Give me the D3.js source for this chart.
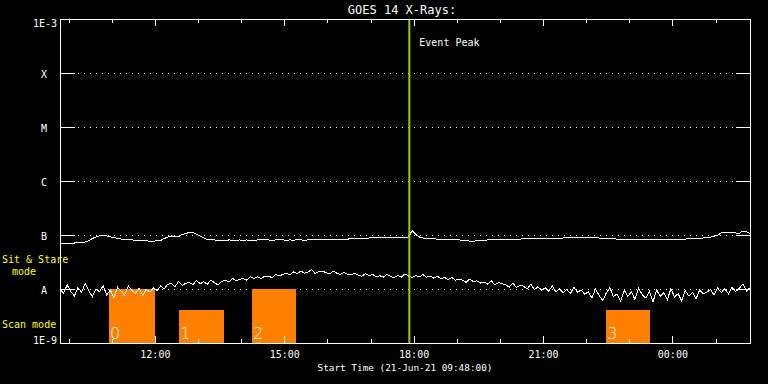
<!DOCTYPE html>
<html lang="en">
<head>
  <meta charset="UTF-8">
  <title>GOES 14 X-Rays</title>
  <style>
    body { margin: 0; background: #000; }
    svg { display: block; background: #000; }
    text { font-family: "DejaVu Sans Mono", monospace; fill: #fff; }
    .axis path, .axis line { stroke: #fff; shape-rendering: crispEdges; }
    .axis text { font-size: 10px; }
    .grid line { stroke: #fff; stroke-dasharray: 1,5; shape-rendering: crispEdges; }
    .flux { fill: none; stroke: #fff; stroke-width: 1; shape-rendering: crispEdges; }
    .bar { fill: #ff8000; shape-rendering: crispEdges; }
    .mode { fill: #ffff00; font-size: 10px; }
  </style>
</head>
<body>
  <svg width="768" height="384"></svg>
  <script src="https://cdn.jsdelivr.net/npm/d3@7"></script>
  <script>
    // time axis: one sample every 5 minutes from start
    var startTime = new Date(2021, 5, 21, 9, 48),
      endTime = new Date(2021, 5, 22, 1, 48),
      sampleMinutes = 5;

    // flux values in units of 1e-9 W/m^2
    var longFlux = [
      70, 69, 68, 70, 71, 73, 72, 74, 79, 86, 92, 96, 98, 96, 92, 90, 86, 84, 83, 81,
      81, 80, 79, 79, 78, 77, 77, 78, 79, 86, 92, 96, 92, 94, 102, 107, 111, 111, 104, 96,
      88, 83, 81, 81, 79, 80, 79, 81, 80, 79, 81, 80, 81, 79, 80, 81, 81, 82, 81, 80,
      81, 82, 81, 80, 81, 80, 82, 81, 80, 81, 82, 81, 82, 83, 82, 83, 82, 83, 83, 84,
      84, 85, 85, 86, 87, 86, 88, 88, 89, 90, 89, 91, 90, 90, 88, 88, 88, 92, 121, 102,
      92, 88, 86, 86, 85, 84, 84, 83, 83, 82, 81, 81, 80, 79, 77, 77, 78, 79, 79, 81,
      82, 82, 83, 82, 83, 83, 83, 84, 84, 85, 85, 85, 86, 85, 87, 86, 87, 86, 88, 87,
      88, 88, 89, 88, 89, 90, 89, 89, 90, 88, 88, 87, 86, 86, 85, 84, 84, 83, 83, 82,
      82, 81, 82, 82, 81, 82, 83, 82, 82, 83, 82, 83, 83, 84, 84, 85, 85, 86, 87, 88,
      89, 91, 94, 100, 109, 112, 112, 111, 109, 107, 119, 116, 107
    ];
    var shortFlux = [
      9.8, 8.4, 11.9, 9.0, 7.4, 10.6, 8.7, 12.6, 9.3, 7.2, 10.1, 8.9, 11.5, 7.8, 9.6,
      6.9, 10.8, 9.1, 7.7, 11.4, 9.4, 8.3, 10.3, 7.6, 9.9, 8.8,
      10.4, 9.2, 11.3, 10.1, 12.2,
      12.6, 11.0, 13.8, 11.7, 12.8,
      13.1, 12.0, 14.4, 12.5, 13.6, 12.2, 14.7, 13.0, 11.9, 13.8,
      14.6, 13.4, 15.8, 14.0, 15.1,
      15.6, 14.6, 16.9, 15.7, 16.8, 15.5, 17.4,
      17.3, 16.2, 18.6, 17.4, 18.6,
      19.4, 18.2, 20.7, 19.1, 21.6, 19.6, 20.6, 22.8, 19.4, 20.9, 21.5,
      20.1, 19.0, 21.4, 19.7, 18.5, 20.4, 18.8, 18.2, 19.5,
      18.1, 17.2, 19.3, 17.6, 18.5, 16.9,
      17.6, 16.6, 18.7, 17.1, 16.2, 17.9, 16.7, 19.1, 17.4, 16.3, 17.8, 16.8, 18.5, 16.5,
      17.3, 15.9, 17.2, 15.6, 16.4, 15.0, 16.3, 14.6, 15.2,
      14.5, 13.3, 15.3, 13.7, 14.2, 12.9,
      13.5, 12.3, 14.2, 11.9, 13.1, 12.6,
      12.0, 10.8, 12.9, 10.6, 11.8,
      11.2, 10.0, 12.3, 9.7, 11.0, 9.5,
      10.5, 9.1, 11.5, 8.8, 10.0, 8.5,
      9.9, 8.2, 10.8, 8.7, 9.6, 8.0,
      8.9, 6.8, 9.9, 7.6, 6.1, 8.4, 10.6, 7.2, 8.1, 5.9, 9.5, 7.4, 8.8, 6.4, 10.3,
      7.9, 6.8, 9.0, 5.7, 9.7, 7.3, 8.5, 6.3, 10.2, 7.1, 8.2, 6.0, 9.3, 7.4, 8.7,
      6.6, 9.6, 8.2,
      8.7, 9.8, 7.7, 10.4, 8.6, 10.1, 8.1, 10.7, 9.0, 10.2, 12.4, 9.2, 10.5
    ];

    // flux levels and their labels
    var levels = [1e-9, 1e-8, 1e-7, 1e-6, 1e-5, 1e-4, 1e-3];
    var levelLabels = ["1E-9", "A", "B", "C", "M", "X", "1E-3"];

    // observing windows
    var barLabels = ["0", "1", "2", "3"];
    var barStart = ["10:56", "12:34", "14:15", "22:28"];
    var barEnd = ["12:00", "13:36", "15:16", "23:29"];
    var barDay = [21, 21, 21, 21];
    var barTop = [1e-8, 4e-9, 1e-8, 4e-9];

    var eventPeak = new Date(2021, 5, 21, 17, 54);

    var svg = d3.select("svg"),
      margin = {top: 19, right: 18, bottom: 41, left: 60},
      width = +svg.attr("width") - margin.left - margin.right,
      height = +svg.attr("height") - margin.top - margin.bottom;

    var g = svg.append("g")
      .attr("transform", "translate(" + margin.left + "," + margin.top + ")");

    var x = d3.scaleTime().domain([startTime, endTime]).range([0, width]),
      y = d3.scaleLog().domain([1e-9, 1e-3]).range([height, 0]);

    function parseBar(hm, day) {
      var p = hm.split(":");
      return new Date(2021, 5, day, +p[0], +p[1]);
    }
    function sampleTime(i) {
      return new Date(startTime.getTime() + i * sampleMinutes * 60000);
    }

    // dotted grid at the class levels
    g.append("g").attr("class", "grid")
      .selectAll("line")
      .data(levels.slice(1, 6))
      .enter().append("line")
      .attr("x1", 18).attr("x2", width - 16)
      .attr("y1", function(d) { return Math.round(y(d)) + 0.5; })
      .attr("y2", function(d) { return Math.round(y(d)) + 0.5; });

    // bars
    var bars = g.selectAll(".bar")
      .data(barLabels)
      .enter();
    bars.append("rect")
      .attr("class", "bar")
      .attr("x", function(d, i) { return x(parseBar(barStart[i], barDay[i])); })
      .attr("y", function(d, i) { return y(barTop[i]); })
      .attr("width", function(d, i) { return x(parseBar(barEnd[i], barDay[i])) - x(parseBar(barStart[i], barDay[i])); })
      .attr("height", function(d, i) { return height - y(barTop[i]); });
    bars.append("text")
      .attr("x", function(d, i) { return x(parseBar(barStart[i], barDay[i])) + 1; })
      .attr("y", height - 4)
      .style("font-family", "'DejaVu Sans'")
      .style("font-weight", 200)
      .style("font-size", "16px")
      .text(function(d) { return d; });

    // flux lines
    var line = d3.line()
      .x(function(d, i) { return x(sampleTime(i)); })
      .y(function(d) { return y(d * 1e-9); });
    g.append("path").attr("class", "flux").attr("d", line(longFlux));
    g.append("path").attr("class", "flux").attr("d", line(shortFlux));

    // event peak marker
    g.append("line")
      .attr("x1", x(eventPeak)).attr("x2", x(eventPeak))
      .attr("y1", 0).attr("y2", height)
      .style("stroke", "#9acd00")
      .style("stroke-width", 2);
    g.append("text")
      .attr("x", x(eventPeak) + 10)
      .attr("y", 27)
      .style("font-size", "10px")
      .text("Event Peak");

    // axis-x bottom and top: hourly minor ticks, 3-hourly major ticks
    var hours = x.ticks(d3.timeHour.every(1)),
      majors = hours.filter(function(d) { return d.getHours() % 3 === 0; });

    g.append("g").attr("class", "axis")
      .attr("transform", "translate(0," + height + ")")
      .call(d3.axisBottom(x).tickValues(hours).tickSizeInner(-4).tickSizeOuter(0).tickFormat(""));
    g.append("g").attr("class", "axis axis--x")
      .attr("transform", "translate(0," + height + ")")
      .call(d3.axisBottom(x).tickValues(majors).tickSizeInner(-7).tickSizeOuter(0).tickPadding(8)
        .tickFormat(d3.timeFormat("%H:%M")));
    g.append("g").attr("class", "axis")
      .call(d3.axisTop(x).tickValues(hours).tickSizeInner(-4).tickSizeOuter(0).tickFormat(""));
    g.append("g").attr("class", "axis")
      .call(d3.axisTop(x).tickValues(majors).tickSizeInner(-7).tickSizeOuter(0).tickFormat(""));

    // axis-y left and right
    g.append("g").attr("class", "axis axis--y")
      .call(d3.axisLeft(y).tickValues(levels).tickSizeInner(-15).tickSizeOuter(0).tickPadding(3)
        .tickFormat(function(d, i) { return levelLabels[i]; }))
      .selectAll("text")
      .attr("x", function(d, i) { return levelLabels[i].length > 1 ? -3 : -16; })
      .attr("text-anchor", function(d, i) { return levelLabels[i].length > 1 ? "end" : "middle"; })
      .attr("dy", function(d, i) { return i === 0 ? "0.05em" : (i === 6 ? "0.75em" : "0.4em"); });
    g.append("g").attr("class", "axis")
      .attr("transform", "translate(" + width + ",0)")
      .call(d3.axisRight(y).tickValues(levels).tickSizeInner(-14).tickSizeOuter(0).tickFormat(""));

    // titles
    svg.append("text")
      .attr("x", 402).attr("y", 14)
      .attr("text-anchor", "middle")
      .style("font-size", "12px")
      .text("GOES 14 X-Rays:");
    svg.append("text")
      .attr("x", 405).attr("y", 371)
      .attr("text-anchor", "middle")
      .style("font-size", "9.4px")
      .text("Start Time (21-Jun-21 09:48:00)");

    // mode labels
    svg.append("text").attr("class", "mode").attr("x", 2).attr("y", 263).text("Sit & Stare");
    svg.append("text").attr("class", "mode").attr("x", 12).attr("y", 275).text("mode");
    svg.append("text").attr("class", "mode").attr("x", 2).attr("y", 328).text("Scan mode");
  </script>
</body>
</html>
